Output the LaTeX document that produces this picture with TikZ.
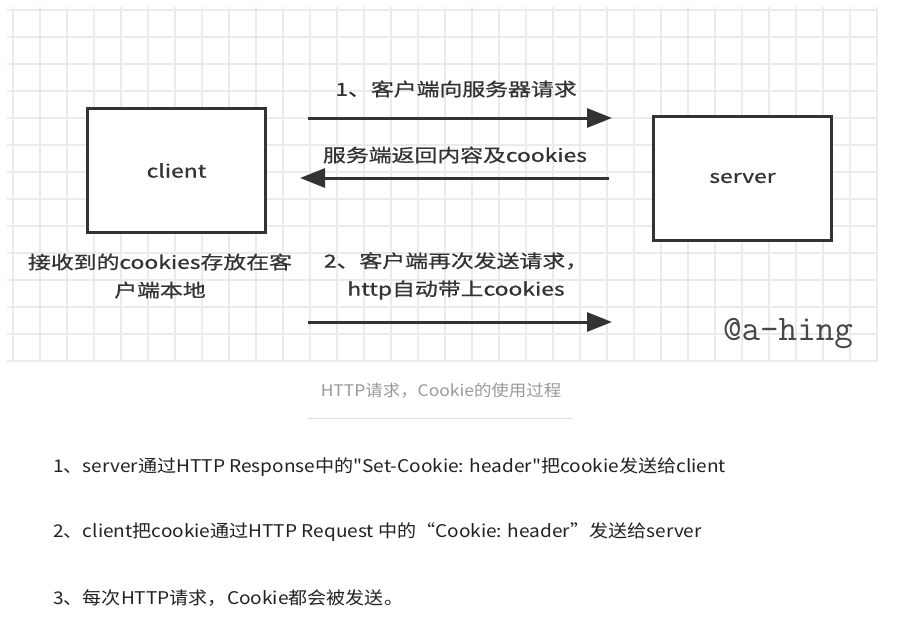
\documentclass[tikz,border=0pt]{standalone}
\usepackage{fontspec}
\usepackage{xcolor}
\usetikzlibrary{arrows.meta,positioning}
\setmainfont{Noto Sans CJK SC}[FakeStretch=1.09, Ligatures=TeXOff]
\newfontfamily\schemafont{Noto Sans CJK SC}[FakeStretch=1.27, FakeBold=0.8]
\definecolor{inchiostro}{HTML}{333333}
\definecolor{griglia}{HTML}{EBEBEB}
\definecolor{didascalia}{HTML}{999999}
\definecolor{testo}{HTML}{222222}
\definecolor{filetto}{HTML}{DDDDDD}

\begin{document}
\begin{tikzpicture}[x=1pt, y=-1pt,
      box/.style={draw=inchiostro, line width=3pt, fill=white, inner sep=0pt,
        minimum width=178pt, minimum height=124pt,
        font=\schemafont\fontsize{18}{22}\selectfont, text=inchiostro},
      freccia/.style={draw=inchiostro, line width=3pt, -{Triangle[length=25pt, width=19pt]}},
      etichetta/.style={inner sep=0pt, align=center, text=inchiostro,
        font=\schemafont\fontsize{18}{28}\selectfont},
      riga/.style={anchor=west, inner sep=0pt, text=testo, font=\fontsize{17.5}{20}\selectfont}
    ]
    \useasboundingbox (0,0) rectangle (899,622);
    \fill[white] (0,0) rectangle (899,622);
    % griglia
    \foreach \x in {13,40,...,877}
      \draw[griglia, line width=1.2pt] (\x,7) -- (\x,362);
    \foreach \y in {10,37,...,361}
      \draw[griglia, line width=1.2pt] (7,\y) -- (878,\y);
    % nodi
    \node[box] (client) at (176.5,170.5) {client};
    \node[box] (server) at (742.5,178) {server};
    % estremi delle frecce
    \coordinate (req1a) at (308,118);
    \coordinate (req1b) at (612,118);
    \coordinate (resa)  at (609,178);
    \coordinate (resb)  at (300,178);
    \coordinate (req2a) at (308,322);
    \coordinate (req2b) at (612,322);
    \draw[freccia] (req1a) -- (req1b);
    \draw[freccia] (resa) -- (resb);
    \draw[freccia] (req2a) -- (req2b);
    % etichette
    \node[etichetta] (lab1) at (456,89)  {1、客户端向服务器请求};
    \node[etichetta] (lab2) at (455,155) {服务端返回内容及cookies};
    \node[etichetta] (lab3) at (456,276) {2、客户端再次发送请求，\\http自动带上cookies};
    \node[etichetta] (salva) at (160,276) {接收到的cookies存放在客\\户端本地};
    \node[inner sep=0pt, text=inchiostro!90, font=\ttfamily\fontsize{36}{36}\selectfont]
      (firma) at (788,334) {@a-hing};
    % didascalia e testo
    \node[inner sep=0pt, text=didascalia, font=\fontsize{16}{20}\selectfont]
      (titolo) at (441,391) {HTTP请求，Cookie的使用过程};
    \coordinate (filettoa) at (308,418);
    \coordinate (filettob) at (573,418);
    \draw[filetto, line width=1pt] (filettoa) -- (filettob);
    \node[riga] (punto1) at (53,467) {1、server通过HTTP Response中的"Set-Cookie: header"把cookie发送给client};
    \node[riga] (punto2) at (53,532) {2、client把cookie通过HTTP Request 中的“Cookie: header”发送给server};
    \node[riga] (punto3) at (53,598) {3、每次HTTP请求，Cookie都会被发送。};
  \end{tikzpicture}
\end{document}
